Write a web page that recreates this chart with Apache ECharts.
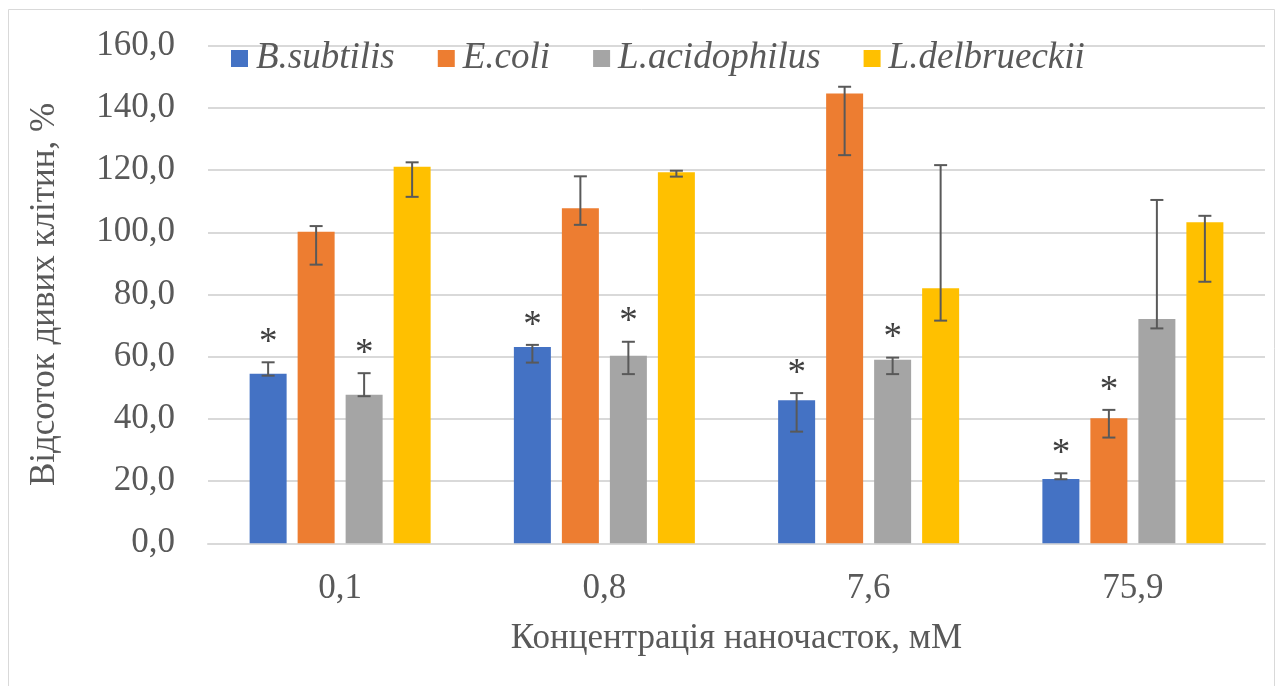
<!DOCTYPE html>
<html>
<head>
<meta charset="utf-8">
<script src="https://cdn.jsdelivr.net/npm/echarts@6/dist/echarts.min.js"></script>
<style>
  html, body { margin: 0; padding: 0; background: #fff; }
  #chart { width: 1282px; height: 686px; }
</style>
</head>
<body>
<div id="chart"></div>
<script>
// Concentrations of nanoparticles (mM)
const categories = ['0,1', '0,8', '7,6', '75,9'];
const seriesNames = ['B.subtilis', 'E.coli', 'L.acidophilus', 'L.delbrueckii'];

// Live cells, %
const bSubtilis = [54.5, 63.1, 46.0, 20.7];
const eColi = [100.2, 107.7, 144.6, 40.2];
const lAcidophilus = [47.8, 60.3, 59.0, 72.1];
const lDelbrueckii = [121.1, 119.3, 82.0, 103.2];

// Error bar ends (upper / lower)
const bSubtilisHigh = [58.2, 63.8, 48.3, 22.5];
const bSubtilisLow = [53.9, 58.1, 35.9, 20.6];
const eColiHigh = [102.0, 118.0, 146.8, 42.9];
const eColiLow = [89.6, 102.4, 124.8, 34.0];
const lAcidophilusHigh = [54.7, 64.8, 59.7, 110.4];
const lAcidophilusLow = [47.3, 54.4, 54.4, 69.1];
const lDelbrueckiiHigh = [122.5, 119.8, 121.6, 105.3];
const lDelbrueckiiLow = [111.4, 117.9, 71.6, 84.1];

// Significant difference marks (*)
const bSubtilisSig = [1, 1, 1, 1];
const eColiSig = [0, 0, 0, 1];
const lAcidophilusSig = [1, 1, 1, 0];
const lDelbrueckiiSig = [0, 0, 0, 0];

// Y axis ticks
const yMin = 0, yMax = 160, yStep = 20;

const colors = ['#4472C4', '#ED7D31', '#A5A5A5', '#FFC000'];
const values = [bSubtilis, eColi, lAcidophilus, lDelbrueckii];
const highs = [bSubtilisHigh, eColiHigh, lAcidophilusHigh, lDelbrueckiiHigh];
const lows = [bSubtilisLow, eColiLow, lAcidophilusLow, lDelbrueckiiLow];
const sigs = [bSubtilisSig, eColiSig, lAcidophilusSig, lDelbrueckiiSig];

const FONT = '"Liberation Serif", "Times New Roman", serif';
const TEXT = '#595959';
const BAR_W = 37;
const BAR_GAP = 11;

function seriesOffset(idx) {
  const n = values.length;
  const total = n * BAR_W + (n - 1) * BAR_GAP;
  return -total / 2 + BAR_W / 2 + idx * (BAR_W + BAR_GAP);
}

const series = [];
values.forEach((vals, s) => {
  series.push({
    name: seriesNames[s],
    type: 'bar',
    data: vals,
    barWidth: BAR_W,
    barGap: (BAR_GAP / BAR_W * 100) + '%',
    itemStyle: { color: colors[s] },
    emphasis: { disabled: true },
    z: 2
  });
});

// Error bars and significance marks, one custom series per species
values.forEach((vals, s) => {
  const data = categories.map((c, i) => [i, lows[s][i], highs[s][i], sigs[s][i]]);
  series.push({
    type: 'custom',
    name: seriesNames[s] + ' err',
    data: data,
    z: 5,
    silent: true,
    encode: { x: 0, y: [1, 2] },
    renderItem: function (params, api) {
      const i = api.value(0);
      const lo = api.coord([i, api.value(1)]);
      const hi = api.coord([i, api.value(2)]);
      const x = lo[0] + seriesOffset(s);
      const cap = 6.5;
      const st = { stroke: '#595959', lineWidth: 2 };
      const children = [
        { type: 'line', shape: { x1: x, y1: hi[1], x2: x, y2: lo[1] }, style: st },
        { type: 'line', shape: { x1: x - cap, y1: hi[1], x2: x + cap, y2: hi[1] }, style: st },
        { type: 'line', shape: { x1: x - cap, y1: lo[1], x2: x + cap, y2: lo[1] }, style: st }
      ];
      if (api.value(3)) {
        children.push({
          type: 'text',
          x: x,
          y: hi[1] - 19,
          style: {
            text: '*',
            font: '37px ' + FONT,
            fill: '#404040',
            align: 'center',
            verticalAlign: 'middle'
          }
        });
      }
      return { type: 'group', children: children };
    }
  });
});

const chart = echarts.init(document.getElementById('chart'), null, { renderer: 'canvas' });
chart.setOption({
  animation: false,
  backgroundColor: '#fff',
  color: colors,
  grid: { left: 208, right: 17, top: 45.7, bottom: 142.7 },
  legend: {
    data: seriesNames,
    top: 35,
    left: 226,
    itemWidth: 17,
    itemHeight: 17,
    itemGap: 43,
    icon: 'rect',
    textStyle: { fontFamily: FONT, fontSize: 37, fontStyle: 'italic', color: TEXT, padding: [0, 0, 0, 3] }
  },
  xAxis: {
    type: 'category',
    data: categories,
    name: 'Концентрація наночасток, мМ',
    nameLocation: 'middle',
    nameGap: 78,
    nameTextStyle: { fontFamily: FONT, fontSize: 35, color: TEXT },
    axisLine: { show: true, lineStyle: { color: '#d9d9d9', width: 2 } },
    axisTick: { show: false },
    axisLabel: { fontFamily: FONT, fontSize: 35, color: TEXT, margin: 28 },
    splitLine: { show: false }
  },
  yAxis: {
    type: 'value',
    min: yMin,
    max: yMax,
    interval: yStep,
    name: 'Відсоток дивих клітин, %',
    nameLocation: 'middle',
    nameGap: 146,
    nameTextStyle: { fontFamily: FONT, fontSize: 35, color: TEXT },
    axisLine: { show: false },
    axisTick: { show: false },
    axisLabel: {
      fontFamily: FONT, fontSize: 35, color: TEXT, margin: 33,
      formatter: v => v.toFixed(1).replace('.', ',')
    },
    splitLine: { lineStyle: { color: '#d9d9d9', width: 2 } }
  },
  graphic: [{
    type: 'rect',
    shape: { x: 8.5, y: 9.5, width: 1266, height: 700 },
    style: { fill: 'none', stroke: '#d9d9d9', lineWidth: 1 },
    silent: true,
    z: -1
  }],
  series: series
});
</script>
</body>
</html>
